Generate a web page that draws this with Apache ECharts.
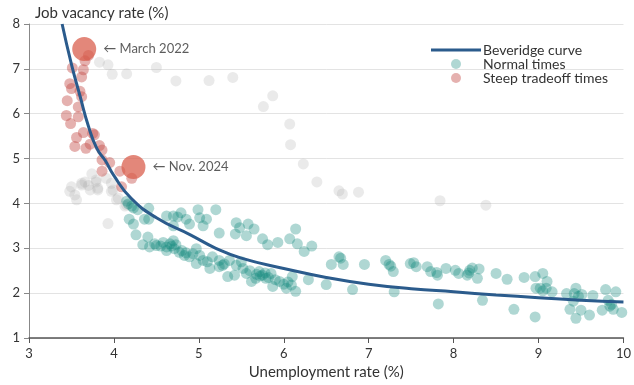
<!DOCTYPE html>
<html>
<head>
<meta charset="utf-8">
<script src="https://cdn.jsdelivr.net/npm/echarts@6/dist/echarts.min.js"></script>
<style>
  html, body { margin: 0; padding: 0; background: #fff; }
  #chart { width: 634px; height: 385px; }
</style>
</head>
<body>
<div id="chart"></div>
<script>
// [unemployment rate, job vacancy rate]
const normalTimes = [
  [4.15, 4.05], [4.17, 3.99], [4.21, 3.94], [4.23, 3.90], [4.28, 3.86], [4.41, 3.89], [4.18, 3.65], [4.23, 3.54],
  [4.36, 3.65], [4.41, 3.65], [4.26, 3.30], [4.34, 3.08], [4.40, 3.25], [4.42, 3.03], [4.50, 3.06], [4.58, 3.13],
  [4.62, 3.03], [4.66, 3.10], [4.70, 3.17], [4.71, 2.99], [4.62, 2.95], [4.77, 2.91], [4.83, 2.84], [4.89, 2.81],
  [4.93, 2.88], [4.97, 2.99], [5.01, 2.84], [4.97, 2.66], [5.05, 2.73], [5.13, 2.55], [5.16, 2.81], [5.24, 2.73],
  [5.24, 2.59], [5.36, 2.73], [5.34, 2.37], [5.42, 2.40], [5.44, 2.62], [5.52, 2.55], [5.56, 2.44], [5.62, 2.26],
  [5.67, 2.33], [5.71, 2.48], [5.75, 2.40], [5.79, 2.33], [5.85, 2.44], [5.87, 2.15], [5.95, 2.26], [6.03, 2.11],
  [6.09, 2.18], [6.14, 2.04], [6.10, 2.37], [6.29, 2.30],
  [4.62, 3.72], [4.70, 3.72], [4.79, 3.79], [4.85, 3.65], [4.89, 3.54], [4.99, 3.86], [5.01, 3.68], [5.09, 3.65],
  [5.05, 3.50], [5.20, 3.86], [5.24, 3.34], [5.44, 3.57], [5.48, 3.46], [5.43, 3.32], [5.58, 3.54], [5.65, 3.43],
  [5.56, 3.28], [5.75, 3.21], [5.81, 3.08], [5.93, 3.13], [6.07, 3.21], [6.14, 3.43], [6.16, 3.10], [6.24, 2.93],
  [6.33, 3.05], [4.70, 3.50], [4.75, 3.70],
  [4.48, 3.10], [4.55, 3.05], [4.68, 3.05], [4.73, 3.08], [4.80, 2.95], [4.85, 2.90], [5.10, 2.70], [5.30, 2.65],
  [5.60, 2.50], [5.68, 2.42], [5.72, 2.38], [5.78, 2.45], [5.82, 2.35], [5.90, 2.30], [6.00, 2.20], [6.05, 2.25],
  [5.50, 2.70], [5.28, 2.62],
  [6.50, 2.19], [6.56, 2.64], [6.65, 2.81], [6.67, 2.78], [6.70, 2.64], [6.81, 2.08], [6.95, 2.64], [7.20, 2.73],
  [7.24, 2.64], [7.26, 2.60], [7.29, 2.48], [7.30, 2.03], [7.49, 2.66], [7.53, 2.68], [7.56, 2.59], [7.69, 2.59],
  [7.73, 2.48], [7.80, 2.46], [7.81, 2.40], [7.82, 1.76], [7.91, 2.55], [8.02, 2.51], [8.06, 2.44], [8.16, 2.40],
  [8.19, 2.51], [8.22, 2.56], [8.18, 2.45], [8.30, 2.54], [8.28, 2.33], [8.34, 1.84], [8.50, 2.44], [8.63, 2.31],
  [8.71, 1.64], [8.83, 2.35], [8.96, 2.37], [8.97, 2.11], [8.96, 1.47], [9.05, 2.44], [9.02, 2.11], [9.10, 2.26],
  [9.09, 2.11], [9.05, 2.05], [9.16, 2.03], [9.33, 1.99], [9.44, 2.11], [9.42, 1.99], [9.47, 1.93], [9.51, 1.97],
  [9.41, 1.82], [9.37, 1.64], [9.50, 1.62], [9.44, 1.44], [9.60, 1.51], [9.64, 1.95], [9.75, 1.62], [9.79, 2.08],
  [9.82, 1.84], [9.84, 1.71], [9.88, 1.64], [9.91, 2.03], [9.98, 1.57], [9.86, 1.75]
]

const steepTimes = [
  [3.66, 7.18], [3.51, 7.02], [3.64, 6.98], [3.62, 6.82], [3.48, 6.67], [3.50, 6.56], [3.60, 6.50], [3.62, 6.38],
  [3.45, 6.29], [3.58, 6.15], [3.44, 5.96], [3.58, 5.93], [3.49, 5.78], [3.64, 5.58], [3.75, 5.56], [3.56, 5.47],
  [3.77, 5.53], [3.54, 5.27], [3.67, 5.23], [3.72, 5.32], [3.83, 5.29], [3.86, 5.19], [3.86, 4.97], [3.95, 4.91],
  [3.86, 4.72], [4.07, 4.72], [4.21, 4.56], [4.09, 4.37], [3.70, 7.30]
]

// grey, unlabelled months (pandemic swing etc.)
const otherTimes = [
  [3.83, 7.15], [3.93, 7.09], [3.98, 6.88], [4.15, 6.89], [4.50, 7.03], [4.73, 6.73], [5.12, 6.74], [5.40, 6.81],
  [5.76, 6.16], [5.87, 6.40], [6.07, 5.77], [6.08, 5.31], [6.23, 4.88], [6.39, 4.48], [6.65, 4.28], [6.69, 4.21],
  [6.88, 4.25], [7.84, 4.06], [8.38, 3.96],
  [3.48, 4.27], [3.56, 4.08], [3.50, 4.37], [3.54, 4.19], [3.62, 4.45], [3.66, 4.48], [3.72, 4.30], [3.74, 4.66],
  [3.79, 4.52], [3.81, 4.30], [3.79, 4.48], [3.81, 4.34], [3.91, 4.56], [3.97, 4.45], [3.99, 4.30], [3.93, 3.55],
  [3.97, 4.27], [4.03, 4.08], [4.05, 4.12], [4.13, 3.94], [4.15, 3.97], [3.62, 4.41], [3.70, 4.40]
]

const highlightNames = ['March 2022', 'Nov. 2024']
const highlightPoints = [[3.65, 7.44], [4.23, 4.81]]

// fitted curve
const curveU = [3.39, 3.50, 3.60, 3.70, 3.80, 3.90, 4.00, 4.20, 4.50, 4.90, 5.20, 5.50, 6.00, 6.50, 7.00, 7.50, 8.00, 8.50, 9.00, 9.50, 10.00]
const curveV = [8.00, 7.10, 6.40, 5.72, 5.22, 4.95, 4.62, 4.12, 3.68, 3.30, 3.00, 2.78, 2.55, 2.35, 2.20, 2.10, 2.03, 1.96, 1.90, 1.84, 1.80]

const fontFamily = 'Lato, "Noto Sans", sans-serif'
const textColor = '#333'
const curveColor = '#2b5b8c'

const chart = echarts.init(document.getElementById('chart'))
chart.setOption({
  animation: false,
  textStyle: { fontFamily: fontFamily, color: textColor },
  grid: { left: 29, right: 9, top: 24, bottom: 41 },
  legend: {
    data: [
      { name: 'Beveridge curve', icon: 'path://M0,0 L50,0 L50,3 L0,3 Z' },
      { name: 'Normal times', icon: 'circle' },
      { name: 'Steep tradeoff times', icon: 'circle' }
    ],
    orient: 'vertical',
    left: 426,
    top: 38,
    itemWidth: 50,
    itemHeight: 10,
    itemGap: 0,
    textStyle: { fontSize: 14, lineHeight: 14, color: textColor, fontFamily: fontFamily, padding: [0, 0, 0, -3] }
  },
  xAxis: {
    type: 'value',
    min: 3,
    max: 10,
    interval: 1,
    name: 'Unemployment rate (%)',
    nameLocation: 'middle',
    nameGap: 27,
    nameTextStyle: { fontSize: 15, color: textColor },
    axisLine: { show: true, lineStyle: { color: '#555', width: 1.5 } },
    axisTick: { show: true, length: 5, lineStyle: { color: '#555' } },
    axisLabel: { fontSize: 13, color: textColor, margin: 9 },
    splitLine: { show: false }
  },
  yAxis: {
    type: 'value',
    min: 1,
    max: 8,
    interval: 1,
    name: 'Job vacancy rate (%)',
    nameLocation: 'end',
    nameGap: 3,
    nameTextStyle: { fontSize: 15, color: textColor, align: 'left', padding: [0, 0, 0, 6] },
    axisLine: { show: true, lineStyle: { color: '#888', width: 1 } },
    axisTick: { show: true, length: 5, lineStyle: { color: '#888' } },
    axisLabel: { fontSize: 13, color: textColor, margin: 9 },
    splitLine: { show: true, lineStyle: { color: '#e3e3e3', width: 1 } }
  },
  series: [
    {
      name: 'Other times',
      type: 'scatter',
      symbolSize: 11,
      itemStyle: { color: 'rgba(170,170,170,0.3)' },
      data: otherTimes
    },
    {
      name: 'Normal times',
      type: 'scatter',
      symbolSize: 11,
      itemStyle: { color: 'rgba(19,135,126,0.42)' },
      data: normalTimes
    },
    {
      name: 'Beveridge curve',
      type: 'line',
      smooth: true,
      symbol: 'none',
      lineStyle: { color: curveColor, width: 3 },
      itemStyle: { color: curveColor },
      data: curveU.map((u, i) => [u, curveV[i]])
    },
    {
      name: 'Steep tradeoff times',
      type: 'scatter',
      symbolSize: 11,
      itemStyle: { color: 'rgba(196,78,72,0.55)' },
      data: steepTimes
    },
    {
      name: 'Highlights',
      type: 'scatter',
      symbolSize: 24,
      itemStyle: { color: 'rgba(217,92,74,0.92)' },
      label: {
        show: true,
        position: 'right',
        distance: 7,
        fontSize: 13,
        color: textColor,
        formatter: p => '\u2190 ' + highlightNames[p.dataIndex]
      },
      data: highlightPoints
    }
  ]
})
</script>
</body>
</html>
